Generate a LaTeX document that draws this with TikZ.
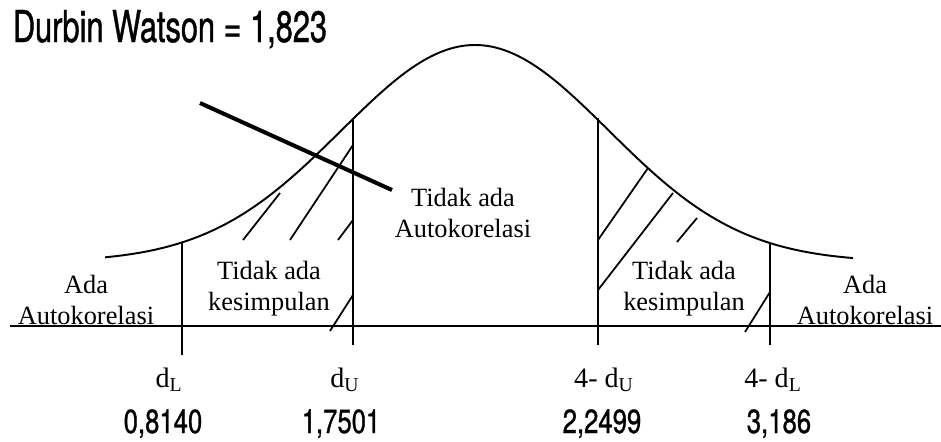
\documentclass[tikz,border=0pt]{standalone}
\usepackage{amsmath}
\usepackage{fontspec}
\setmainfont{Liberation Serif}
\newfontfamily\condfont[FakeStretch=0.7,FakeBold=0.9]{TeX Gyre Heros}
\newfontfamily\numfont[FakeStretch=0.77,FakeBold=0.9]{TeX Gyre Heros}
\usetikzlibrary{positioning}

\begin{document}
\begin{tikzpicture}[x=0.02cm, y=-0.02cm, line width=1.1pt,
  txt/.style={font=\fontsize{15}{17.5}\selectfont, align=center, inner sep=0pt, anchor=base},
  num/.style={font=\numfont\fontsize{19}{21}\selectfont, inner sep=0pt, anchor=base},
  hatch/.style={line width=1pt}]
  \useasboundingbox (0,0) rectangle (941,441);
  \node[anchor=base west, inner sep=0pt, font=\condfont\fontsize{25}{28}\selectfont] (title) at (12,42) {Durbin Watson = 1,823};
  % bell curve, axis and the four bounds
  \draw plot[domain=105:853, samples=90, smooth] (\x, {262-217*exp(-((\x-475)/100)^2/3.569)});
  \draw[line width=1.3pt] (10,326) -- (941,326);
  \foreach \x/\t/\b in {182/242/355, 353/120/345, 598/118/345, 770/243/345} \draw (\x,\t) -- (\x,\b);
  % hatching of the two grey zones
  \foreach \xa/\ya/\xb/\yb in {243/240/280/193, 290/240/353/145, 338/240/353/220, 330/331/353/295,
    598/240/648/168, 598/290/673/193, 677/242/697/218, 745/332/770/292}
    \draw[hatch] (\xa,\ya) -- (\xb,\yb);
  % regions
  \node[txt] (adaL) at (86,324) {Ada\\Autokorelasi};
  \node[txt] (tdkL) at (269,310) {Tidak ada\\kesimpulan};
  \node[txt] (tdkM) at (463,237) {Tidak ada\\Autokorelasi};
  \node[txt] (tdkR) at (684,310) {Tidak ada\\kesimpulan};
  \node[txt] (adaR) at (865,324) {Ada\\Autokorelasi};
  \coordinate (ptr) at (200,103);
  \draw[line width=2.3pt] (ptr) -- (392,190);
  % bounds and values
  \foreach \i/\xl/\lbl/\xv/\val in {1/169/{d$_{\textrm{L}}$}/163/{0,8140}, 2/345/{d$_{\textrm{U}}$}/341/{1,7501},
    3/604/{4- d$_{\textrm{U}}$}/602/{2,2499}, 4/773/{4- d$_{\textrm{L}}$}/779/{3,186}}
    {\node[txt, font=\fontsize{16}{18}\selectfont] (b\i) at (\xl,387) {\lbl}; \node[num] (v\i) at (\xv,433) {\val};}
\end{tikzpicture}
\end{document}
